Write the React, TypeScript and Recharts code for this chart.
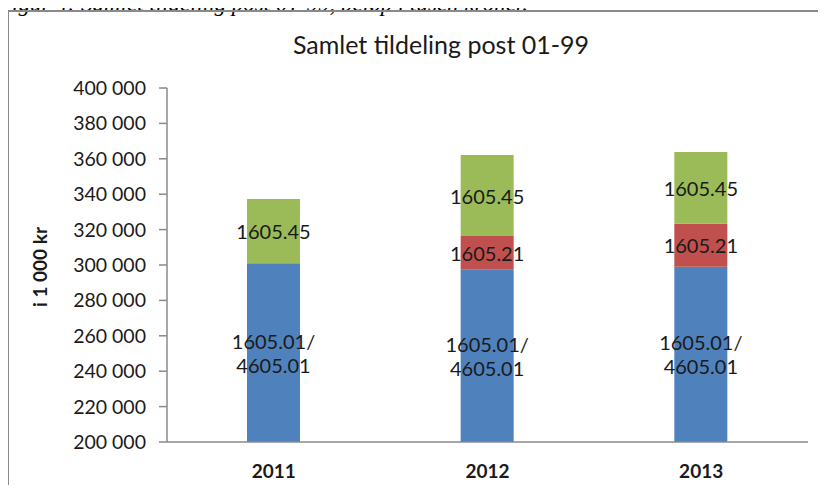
import { BarChart, Bar, XAxis, YAxis, LabelList } from 'recharts';

const years = ['2011', '2012', '2013'];
const post0101 = [301000, 297600, 299000];
const post21 = [0, 18800, 24300];
const post45 = [36300, 45700, 40500];
const yTicks = [200000, 220000, 240000, 260000, 280000, 300000, 320000, 340000, 360000, 380000, 400000];

const seriesNames = {
    post0101: ['1605.01/', '4605.01'],
    post21: ['1605.21'],
    post45: ['1605.45'],
};

const data = years.map((year, i) => ({
    year,
    post0101: post0101[i],
    post21: post21[i],
    post45: post45[i],
}));

const W = 826;
const H = 493;
const X_AXIS_H = 30;
const MARGIN = { top: 88, right: 18, bottom: 51 - X_AXIS_H, left: 0 };
const PLOT_BOTTOM = H - 51;
const FONT = 'Lato, "Open Sans", sans-serif';

const fmt = (v: number) => {
    const s = String(v);
    return s.length > 3 ? s.slice(0, s.length - 3) + ' ' + s.slice(-3) : s;
};

function segmentLabel(lines: string[]) {
    return (props: any) => {
        const { x, y, width, height, value } = props;
        if (!value) return null;
        const top = Number(y);
        const bottom = Math.min(top + Number(height), PLOT_BOTTOM);
        const cx = Number(x) + Number(width) / 2;
        const cy = (top + bottom) / 2;
        const lh = 24;
        const start = cy - ((lines.length - 1) * lh) / 2;
        return (
            <text x={cx} y={start} textAnchor="middle" dominantBaseline="central" fontFamily={FONT} fontSize={20} fill="#1a1a1a">
                {lines.map((l, i) => (
                    <tspan key={i} x={cx} dy={i === 0 ? 0 : lh}>{l}</tspan>
                ))}
            </text>
        );
    };
}

export default function App() {
    return (
        <div style={{ position: 'relative', width: W, height: H, margin: -8, overflow: 'hidden', background: '#fff' }}>
            <div
                style={{
                    position: 'absolute',
                    left: -2,
                    top: -8,
                    fontFamily: '"Liberation Serif", "DejaVu Serif", serif',
                    fontStyle: 'italic',
                    fontSize: 23,
                    lineHeight: '23px',
                    whiteSpace: 'nowrap',
                    color: '#000',
                }}
            >
                Figur 4: Samlet tildeling post 01-99, beløp i tusen kroner.
            </div>
            <div style={{ position: 'absolute', left: 7, top: 10, width: 900, height: 600, border: '2px solid #8a8a8a' }} />
            <div
                style={{
                    position: 'absolute',
                    left: 0,
                    width: 882,
                    top: 29,
                    textAlign: 'center',
                    fontFamily: FONT,
                    fontSize: 25,
                    color: '#1a1a1a',
                }}
            >
                Samlet tildeling post 01-99
            </div>
            <div style={{ position: 'absolute', left: 0, top: 0 }}>
                <BarChart width={W} height={H} data={data} margin={MARGIN} barSize={53}>
                    <XAxis
                        dataKey="year"
                        height={X_AXIS_H}
                        axisLine={{ stroke: '#8a8a8a', strokeWidth: 1.5 }}
                        tickLine={false}
                        tickSize={0}
                        tickMargin={23}
                        tick={{ fontFamily: FONT, fontSize: 19, fontWeight: 700, fill: '#1a1a1a' }}
                    />
                    <YAxis
                        type="number"
                        width={167}
                        domain={[200000, 400000]}
                        allowDataOverflow
                        ticks={yTicks}
                        interval={0}
                        tickFormatter={fmt}
                        axisLine={{ stroke: '#8a8a8a', strokeWidth: 1.5 }}
                        tickLine={{ stroke: '#8a8a8a', strokeWidth: 1.5 }}
                        tickSize={8}
                        tickMargin={13}
                        tick={{ fontFamily: FONT, fontSize: 19.5, fill: '#1a1a1a' }}
                        label={{
                            content: () => (
                                <text
                                    x={47}
                                    y={267}
                                    transform="rotate(-90 47 267)"
                                    textAnchor="middle"
                                    fontFamily={FONT}
                                    fontSize={19}
                                    fontWeight={700}
                                    fill="#1a1a1a"
                                >
                                    i 1 000 kr
                                </text>
                            ),
                        }}
                    />
                    <Bar dataKey="post0101" stackId="a" fill="#4F81BD" isAnimationActive={false}>
                        <LabelList dataKey="post0101" content={segmentLabel(seriesNames.post0101)} />
                    </Bar>
                    <Bar dataKey="post21" stackId="a" fill="#C0504D" isAnimationActive={false}>
                        <LabelList dataKey="post21" content={segmentLabel(seriesNames.post21)} />
                    </Bar>
                    <Bar dataKey="post45" stackId="a" fill="#9BBB59" isAnimationActive={false}>
                        <LabelList dataKey="post45" content={segmentLabel(seriesNames.post45)} />
                    </Bar>
                </BarChart>
            </div>
        </div>
    );
}
